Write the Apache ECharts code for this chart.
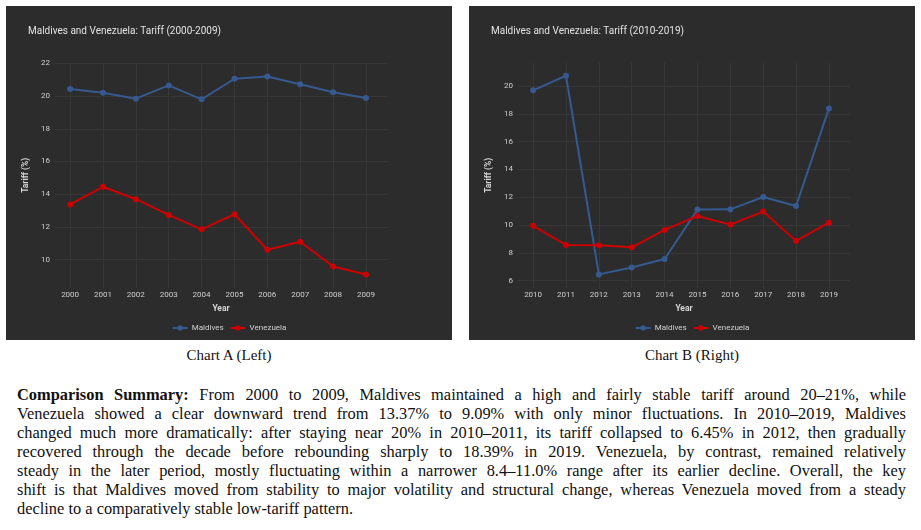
<!DOCTYPE html>
<html>
<head>
<meta charset="utf-8">
<script src="https://cdn.jsdelivr.net/npm/echarts@6/dist/echarts.min.js"></script>
<style>
  body { margin: 0; width: 921px; height: 530px; background: #fff; position: relative; overflow: hidden; }
  .panel { position: absolute; top: 6px; width: 446px; height: 334px; background: #2c2c2c; }
  #chartA { left: 6px; }
  #chartB { left: 469px; }
  .caption { position: absolute; top: 345px; width: 446px; text-align: center;
    font-family: "Liberation Serif", serif; font-size: 15px; line-height: 20px; color: #111; }
  #summary { position: absolute; left: 17px; top: 385px; width: 889px;
    font-family: "Liberation Serif", serif; font-size: 16.4px; line-height: 19px; color: #111; }
  #summary div { text-align: justify; text-align-last: justify; white-space: nowrap; }
  #summary div.last { text-align-last: left; }
</style>
</head>
<body>
<div id="chartA" class="panel"></div>
<div id="chartB" class="panel"></div>
<div class="caption" style="left:6px">Chart A (Left)</div>
<div class="caption" style="left:469px">Chart B (Right)</div>
<div id="summary">
  <div><b>Comparison Summary:</b> From 2000 to 2009, Maldives maintained a high and fairly stable tariff around 20–21%, while</div>
  <div>Venezuela showed a clear downward trend from 13.37% to 9.09% with only minor fluctuations. In 2010–2019, Maldives</div>
  <div>changed much more dramatically: after staying near 20% in 2010–2011, its tariff collapsed to 6.45% in 2012, then gradually</div>
  <div>recovered through the decade before rebounding sharply to 18.39% in 2019. Venezuela, by contrast, remained relatively</div>
  <div>steady in the later period, mostly fluctuating within a narrower 8.4–11.0% range after its earlier decline. Overall, the key</div>
  <div>shift is that Maldives moved from stability to major volatility and structural change, whereas Venezuela moved from a steady</div>
  <div class="last">decline to a comparatively stable low-tariff pattern.</div>
</div>
<script>
// data
var yearsA = [2000, 2001, 2002, 2003, 2004, 2005, 2006, 2007, 2008, 2009];
var maldivesA = [20.43, 20.20, 19.84, 20.65, 19.80, 21.06, 21.20, 20.72, 20.23, 19.88];
var venezuelaA = [13.37, 14.45, 13.69, 12.73, 11.85, 12.77, 10.60, 11.09, 9.58, 9.09];

var yearsB = [2010, 2011, 2012, 2013, 2014, 2015, 2016, 2017, 2018, 2019];
var maldivesB = [19.69, 20.74, 6.45, 6.94, 7.56, 11.11, 11.13, 12.02, 11.37, 18.39];
var venezuelaB = [9.94, 8.57, 8.55, 8.40, 9.65, 10.65, 10.03, 10.97, 8.86, 10.17];

var seriesNames = ['Maldives', 'Venezuela'];
var seriesColors = ['#36598f', '#cc0000'];

var font = 'Roboto';

// hide the labels of the padded axis ends
function intLabel(v) {
  return Math.abs(v - Math.round(v)) < 1e-9 ? String(Math.round(v)) : '';
}

function pairs(xs, ys) {
  return xs.map(function (x, i) { return [x, ys[i]]; });
}

function makeOption(title, years, mald, ven, yMin, yMax) {
  return {
    animation: false,
    backgroundColor: '#2c2c2c',
    textStyle: { fontFamily: font },
    title: {
      text: title,
      left: 22,
      top: 20,
      padding: 0,
      textStyle: { color: '#e2e2e2', fontSize: 10, fontWeight: 'normal', fontFamily: font }
    },
    legend: {
      data: seriesNames,
      bottom: 3,
      left: 'center',
      itemWidth: 15,
      itemHeight: 7,
      itemGap: 6,
      textStyle: { color: '#d0d0d0', fontSize: 8, fontFamily: font, padding: [0, 0, 0, -1] }
    },
    grid: { left: 49, right: 65, top: 56.7, bottom: 52 },
    xAxis: {
      type: 'value',
      name: 'Year',
      nameLocation: 'middle',
      nameGap: 15,
      nameTextStyle: { color: '#d6d6d6', fontSize: 8.5, fontWeight: 'bold', fontFamily: font },
      min: years[0] - 0.46,
      max: years[years.length - 1] + 0.64,
      minInterval: 1,
      maxInterval: 1,
      axisLine: { show: false },
      axisTick: { show: false },
      axisLabel: { color: '#cfcfcf', fontSize: 8, margin: 3, formatter: intLabel, showMinLabel: false, showMaxLabel: false },
      splitLine: { show: true, showMinLine: false, showMaxLine: false, lineStyle: { color: '#373737', width: 1 } }
    },
    yAxis: {
      type: 'value',
      name: 'Tariff (%)',
      nameLocation: 'middle',
      nameGap: 17,
      nameTextStyle: { color: '#d6d6d6', fontSize: 8.5, fontWeight: 'bold', fontFamily: font },
      min: yMin,
      max: yMax,
      minInterval: 2,
      maxInterval: 2,
      axisLine: { show: false },
      axisTick: { show: false },
      axisLabel: { color: '#cfcfcf', fontSize: 8, margin: 5, formatter: intLabel, showMinLabel: false, showMaxLabel: false },
      splitLine: { show: true, showMinLine: false, showMaxLine: false, lineStyle: { color: '#373737', width: 1 } }
    },
    series: [
      {
        name: seriesNames[0],
        type: 'line',
        data: pairs(years, mald),
        color: seriesColors[0],
        symbol: 'circle',
        symbolSize: 6,
        lineStyle: { width: 2 }
      },
      {
        name: seriesNames[1],
        type: 'line',
        data: pairs(years, ven),
        color: seriesColors[1],
        symbol: 'circle',
        symbolSize: 6,
        lineStyle: { width: 2 }
      }
    ]
  };
}

var chartA = echarts.init(document.getElementById('chartA'));
chartA.setOption(makeOption('Maldives and Venezuela: Tariff (2000-2009)', yearsA, maldivesA, venezuelaA, 8.26, 22.04));

var chartB = echarts.init(document.getElementById('chartB'));
chartB.setOption(makeOption('Maldives and Venezuela: Tariff (2010-2019)', yearsB, maldivesB, venezuelaB, 5.47, 21.68));
</script>
</body>
</html>
